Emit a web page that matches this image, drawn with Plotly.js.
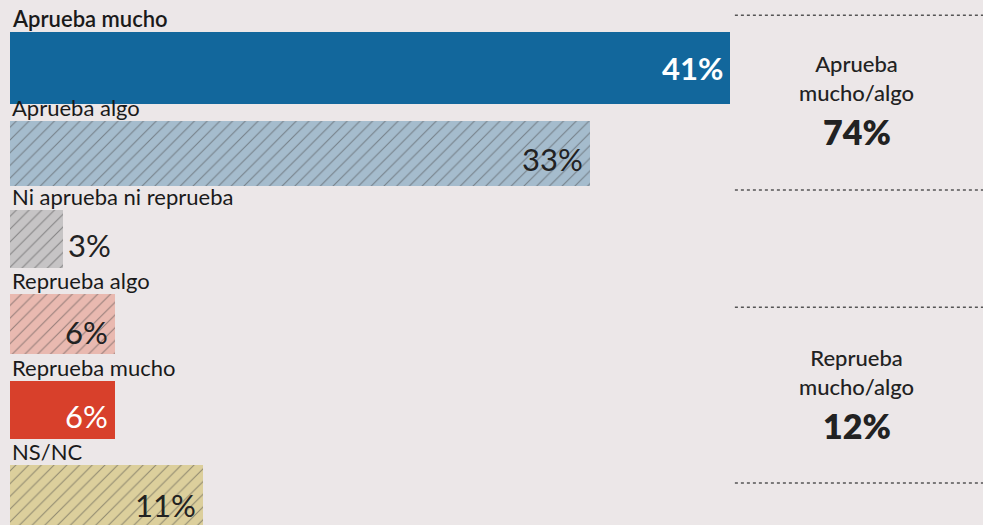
<!DOCTYPE html>
<html>
<head>
<meta charset="utf-8">
<script src="https://cdn.plot.ly/plotly-3.0.1.min.js"></script>
<style>
html,body{margin:0;padding:0;background:#ece7e8;}
#chart{width:983px;height:525px;}
</style>
</head>
<body>
<div id="chart"></div>
<script>
// ---- data ----
const categories = ["Aprueba mucho", "Aprueba algo", "Ni aprueba ni reprueba", "Reprueba algo", "Reprueba mucho", "NS/NC"];
const values = [41, 33, 3, 6, 6, 11];
const summaryLabels = ["Aprueba<br>mucho/algo", "Reprueba<br>mucho/algo"];
const summaryValues = [74, 12];

// ---- styles ----
const barColors = ["#12679c", "#a5bccd", "#c6c4c5", "#e9b9b0", "#d8402b", "#dccf9c"];
const hatchColors = ["#12679c", "#6f879b", "#8a8889", "#b98a82", "#d8402b", "#a79a66"];
const hatchShapes = ["", "/", "/", "/", "", "/"];
const barWidths = [0.85, 0.76, 0.68, 0.70, 0.68, 0.70];
const valueColors = ["#ffffff", "#222222", "#222222", "#222222", "#ffffff", "#222222"];
const valueInside = [true, true, false, true, true, true];
const valueShift = [0, -6, -6, -8, -6, -10];
const FONT = "Lato, 'Open Sans', sans-serif";

const idx = categories.map((_, i) => i);

const trace = {
  type: "bar",
  orientation: "h",
  x: values,
  y: idx,
  width: barWidths,
  marker: {
    color: barColors,
    line: {width: 0},
    pattern: {
      shape: hatchShapes,
      fgcolor: hatchColors,
      bgcolor: barColors,
      fillmode: "overlay",
      size: 9,
      solidity: 0.12
    }
  },
  hoverinfo: "none"
};

const annotations = [];
categories.forEach((c, i) => {
  annotations.push({
    x: 0, xref: "x", xanchor: "left", xshift: 0,
    y: i - barWidths[i] / 2, yref: "y", yanchor: "bottom", yshift: -2,
    text: c, showarrow: false,
    font: {family: FONT, size: 22, color: "#1a1a1a", weight: i === 0 ? 600 : 400}
  });
  annotations.push({
    x: values[i], xref: "x",
    xanchor: valueInside[i] ? "right" : "left",
    xshift: valueInside[i] ? -5 : 3,
    y: i, yref: "y", yanchor: "middle", yshift: valueShift[i],
    text: values[i] + "%", showarrow: false,
    font: {family: FONT, size: 31, color: valueColors[i], weight: i === 0 ? 700 : 400}
  });
});

// right-side summary
const sumY = [0.795, 0.235];
summaryLabels.forEach((s, k) => {
  annotations.push({
    x: 0.87, xref: "paper", xanchor: "center",
    y: sumY[k], yref: "paper", yanchor: "bottom",
    text: s, showarrow: false,
    font: {family: FONT, size: 22, color: "#222222", weight: 500}
  });
  annotations.push({
    x: 0.87, xref: "paper", xanchor: "center",
    y: sumY[k], yref: "paper", yanchor: "top", yshift: -1,
    text: summaryValues[k] + "%", showarrow: false,
    font: {family: FONT, size: 34, color: "#222222", weight: 800}
  });
});

const lineYs = [0.971, 0.638, 0.415, 0.080];
const shapes = lineYs.map(yv => ({
  type: "line", xref: "paper", yref: "paper",
  x0: 0.745, x1: 1.0, y0: yv, y1: yv,
  line: {color: "#555555", width: 1.5, dash: "dot"}
}));

const layout = {
  width: 983, height: 525,
  margin: {l: 10, r: 0, t: 0, b: 0},
  paper_bgcolor: "#ece7e8",
  plot_bgcolor: "rgba(0,0,0,0)",
  showlegend: false,
  bargap: 0,
  xaxis: {range: [0, 55.4], visible: false, fixedrange: true},
  yaxis: {range: [5.35, -0.796], visible: false, fixedrange: true},
  annotations: annotations,
  shapes: shapes
};

Plotly.newPlot("chart", [trace], layout, {displayModeBar: false, staticPlot: true});
</script>
</body>
</html>
